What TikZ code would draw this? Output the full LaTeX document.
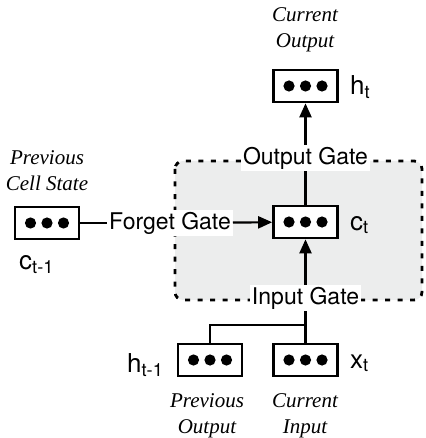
\documentclass[tikz,border=0pt]{standalone}
\usepackage{fontspec}
\setmainfont{Liberation Serif}
\newfontfamily\gatefont{TeX Gyre Heros}
\usetikzlibrary{arrows.meta}

\definecolor{cellbg}{RGB}{236,237,237}

\tikzset{
  cell/.style={draw, line width=2.7pt, minimum width=64pt, minimum height=32pt,
    inner sep=0pt, fill=white},
  gate/.style={fill=white, inner sep=2pt, font=\gatefont\fontsize{23}{23}\selectfont},
  symb/.style={inner sep=0pt, font=\gatefont\fontsize{26}{26}\selectfont},
  caption/.style={align=center, inner sep=0pt, font=\itshape\fontsize{21}{26}\selectfont},
  link/.style={line width=2.2pt},
  flow/.style={link, -{Triangle[length=14pt,width=12pt]}},
}

% three filled dots inside a memory cell
\newcommand\celldots[1]{%
  \foreach \d in {-16.5,0,16.5}{\fill ([xshift=\d pt]#1.center) circle[radius=5.6pt];}}

\begin{document}
\begin{tikzpicture}[x=1pt,y=-1pt]
  \useasboundingbox (0,0) rectangle (425,438);

  % shaded cell region with dashed border
  \draw[fill=cellbg, line width=2.8pt, dash pattern=on 5pt off 7.5pt,
        rounded corners=8pt] (175,161) rectangle (422,300);

  % memory cells
  \node[cell] (ct) at (305.5,222) {};
  \node[cell] (ht) at (305.5,86) {};
  \node[cell] (xt) at (305.5,360) {};
  \node[cell] (hp) at (210,360) {};
  \node[cell] (cp) at (47,223) {};
  \foreach \n in {ct,ht,xt,hp,cp}{\celldots{\n}}

  % gates
  \node[gate] (og) at (305.5,158) {Output Gate};
  \node[gate] (ig) at (305.5,298) {Input Gate};
  \node[gate] (fg) at (170,223) {Forget Gate};

  % symbols
  \node[symb, anchor=base west] (lct) at (350,230) {c\textsubscript{t}};
  \node[symb, anchor=base west] (lht) at (350,95) {h\textsubscript{t}};
  \node[symb, anchor=base west] (lxt) at (350,368) {x\textsubscript{t}};
  \node[symb, anchor=base west] (lhp) at (127,372) {h\textsubscript{t-1}};
  \node[symb, anchor=base west] (lcp) at (19,269) {c\textsubscript{t-1}};

  % captions
  \node[caption] (capo) at (305,30) {Current\\Output};
  \node[caption] (capc) at (47,171) {Previous\\Cell State};
  \node[caption] (capp) at (207,416) {Previous\\Output};
  \node[caption] (capi) at (305,416) {Current\\Input};

  % connections
  \draw[link] (ct) -- (og);
  \draw[flow] (og) -- (ht);
  \draw[flow] (ig) -- (ct);
  \draw[flow] (fg) -- (ct);
  \draw[link] (cp) -- (fg);
  \coordinate (jn) at (305.5,325);
  \draw[link] (ig) -- (xt);
  \draw[link] (jn) -| (hp.north);
\end{tikzpicture}
\end{document}
